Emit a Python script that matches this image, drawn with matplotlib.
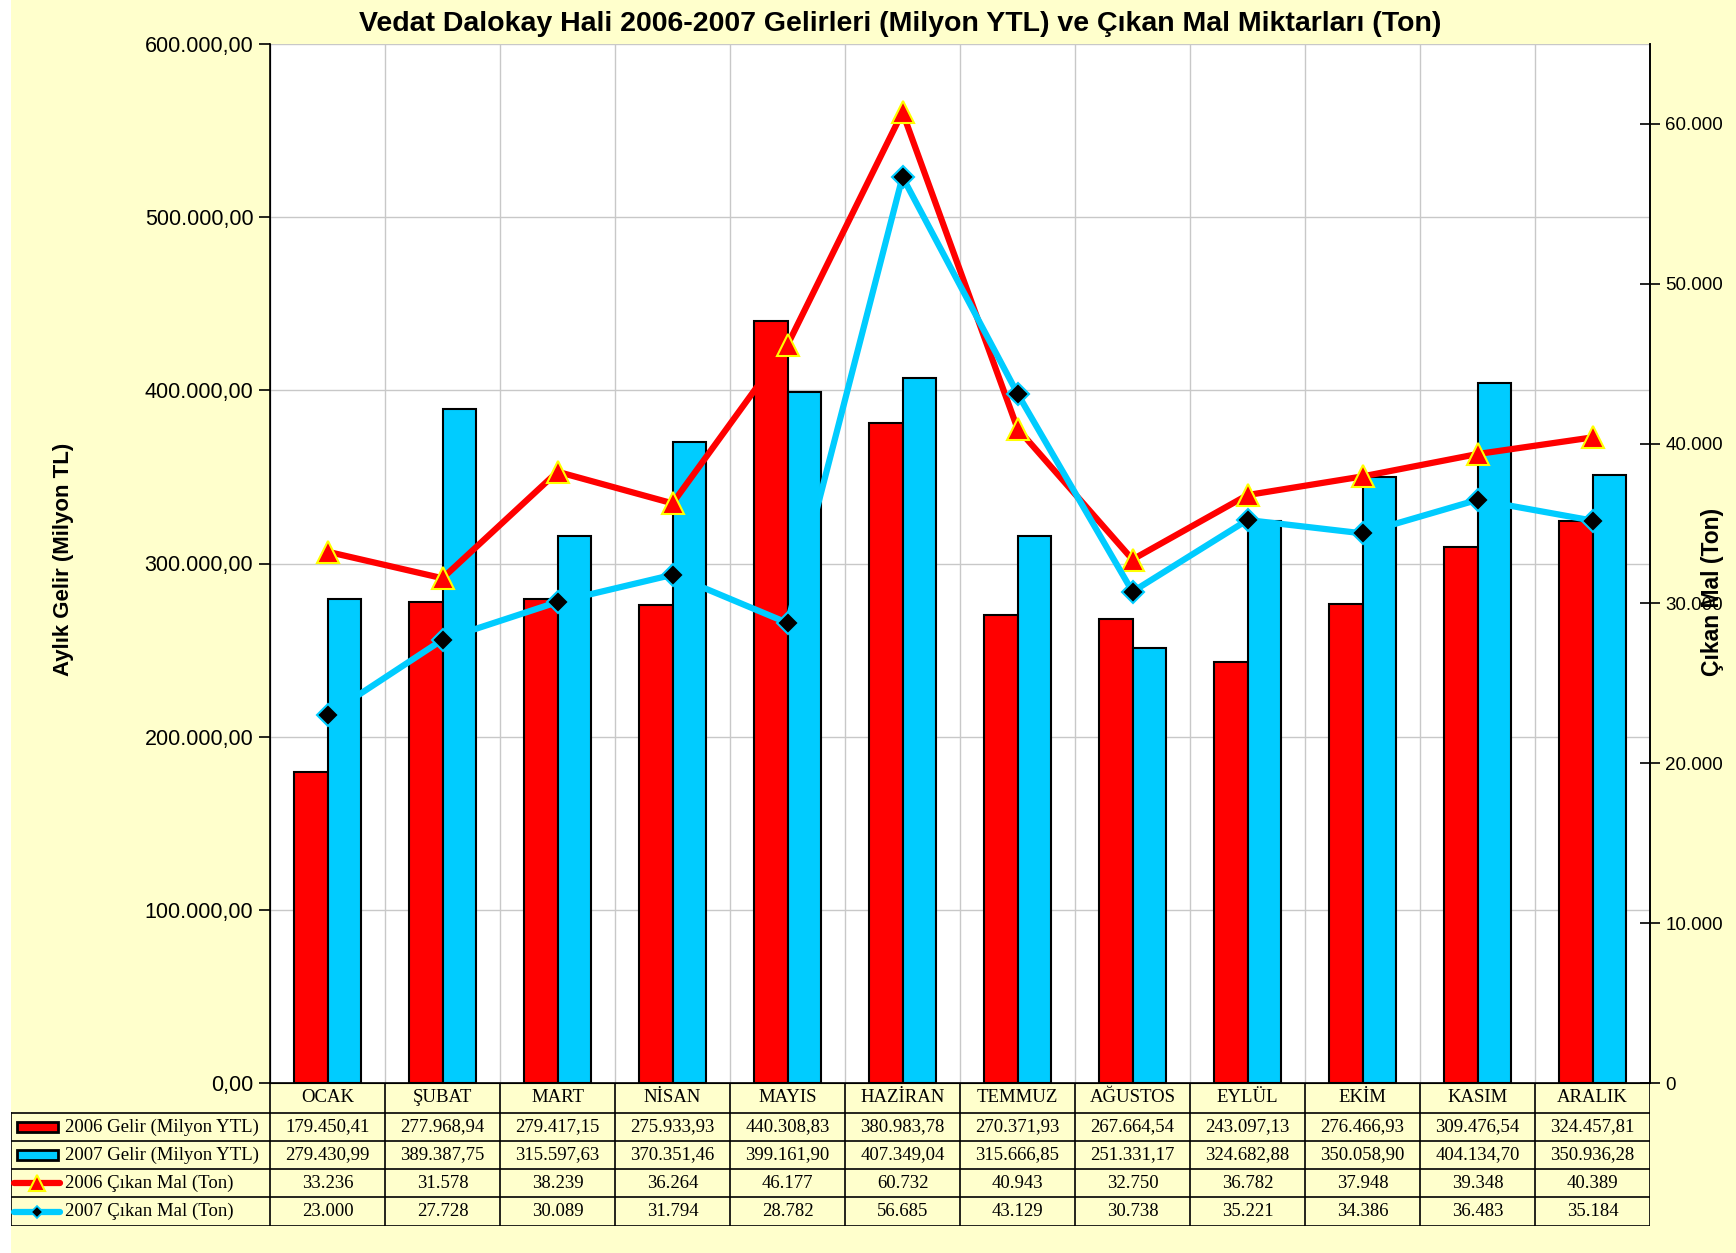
import matplotlib
matplotlib.use('Agg')
import matplotlib.pyplot as plt
from matplotlib.patches import Rectangle
from matplotlib.lines import Line2D
from matplotlib.ticker import FuncFormatter
import numpy as np

months = ['OCAK', 'ŞUBAT', 'MART', 'NİSAN', 'MAYIS', 'HAZİRAN', 'TEMMUZ',
          'AĞUSTOS', 'EYLÜL', 'EKİM', 'KASIM', 'ARALIK']
gelir_2006 = [179450.41, 277968.94, 279417.15, 275933.93, 440308.83, 380983.78,
              270371.93, 267664.54, 243097.13, 276466.93, 309476.54, 324457.81]
gelir_2007 = [279430.99, 389387.75, 315597.63, 370351.46, 399161.90, 407349.04,
              315666.85, 251331.17, 324682.88, 350058.90, 404134.70, 350936.28]
mal_2006 = [33236, 31578, 38239, 36264, 46177, 60732, 40943, 32750, 36782, 37948, 39348, 40389]
mal_2007 = [23000, 27728, 30089, 31794, 28782, 56685, 43129, 30738, 35221, 34386, 36483, 35184]

series_names = ['2006 Gelir (Milyon YTL)', '2007 Gelir (Milyon YTL)',
                '2006 Çıkan Mal (Ton)', '2007 Çıkan Mal (Ton)']

RED = '#FF0000'
CYAN = '#00CCFF'
BG = '#FFFFCC'
SANS = 'Liberation Sans'
SERIF = 'Liberation Serif'
plt.rcParams['font.family'] = [SANS, 'DejaVu Sans']


def tr_money(v):
    s = f'{v:,.2f}'
    return s.replace(',', 'X').replace('.', ',').replace('X', '.')


def tr_int(v):
    return f'{int(round(v)):,}'.replace(',', '.')


W, H = 1736, 1253
fig = plt.figure(figsize=(W / 100, H / 100), dpi=100, facecolor=BG)
# thin white strip on the far left
fig.patches.append(Rectangle((0, 0), 11 / W, 1, transform=fig.transFigure,
                             facecolor='white', edgecolor='none', zorder=-1))

# main plot area (pixel layout taken from reference)
px_l, px_r, px_t, px_b = 270, 1650, 44, 1083
ax = fig.add_axes([px_l / W, 1 - px_b / H, (px_r - px_l) / W, (px_b - px_t) / H])
ax.set_facecolor('white')
x = np.arange(len(months))
bw = 0.29
ax.bar(x - bw / 2, gelir_2006, bw, color=RED, edgecolor='black', linewidth=1.5, zorder=2)
ax.bar(x + bw / 2, gelir_2007, bw, color=CYAN, edgecolor='black', linewidth=1.5, zorder=2)
ax.set_xlim(-0.5, len(months) - 0.5)
ax.set_ylim(0, 600000)
ax.set_yticks(np.arange(0, 600001, 100000))
ax.yaxis.set_major_formatter(FuncFormatter(lambda v, p: tr_money(v)))
ax.set_xticks([])
ax.set_xticks(np.arange(-0.5, len(months), 1), minor=True)
ax.tick_params(axis='x', which='minor', length=0)
ax.grid(True, axis='y', color='#c8c8c8', linewidth=1)
ax.grid(True, axis='x', which='minor', color='#c8c8c8', linewidth=1)
ax.set_axisbelow(True)
ax.tick_params(axis='y', direction='out', length=8, width=1.2, labelsize=15.5, pad=4)
ax.spines['top'].set_visible(False)
for s in ['left', 'right', 'bottom']:
    ax.spines[s].set_linewidth(1.2)

ax2 = ax.twinx()
ax2.plot(x, mal_2006, color=RED, linewidth=4.5, marker='^', markersize=16,
         markerfacecolor=RED, markeredgecolor='#FFFF00', markeredgewidth=1.5, zorder=3)
ax2.plot(x, mal_2007, color=CYAN, linewidth=4.5, marker='D', markersize=11,
         markerfacecolor='black', markeredgecolor=CYAN, markeredgewidth=1.5, zorder=3)
ax2.set_ylim(0, 65000)
ax2.set_yticks(np.arange(0, 60001, 10000))
ax2.yaxis.set_major_formatter(FuncFormatter(lambda v, p: tr_int(v)))
ax2.tick_params(axis='y', direction='inout', length=14, width=1.2, labelsize=13.5, pad=4)
ax2.spines['top'].set_visible(False)
ax2.spines['right'].set_linewidth(1.2)

# titles and axis labels
fig.text(900 / W, 1 - 24 / H,
         'Vedat Dalokay Hali 2006-2007 Gelirleri (Milyon YTL) ve Çıkan Mal Miktarları (Ton)',
         ha='center', va='center', fontsize=20.5, fontweight='bold')
fig.text(64 / W, 1 - 559 / H, 'Aylık Gelir (Milyon TL)', rotation=90, ha='center',
         va='center', fontsize=16, fontweight='bold')
fig.text(1712 / W, 1 - 592 / H, 'Çıkan Mal (Ton)', rotation=90, ha='center',
         va='center', fontsize=16.5, fontweight='bold')

# data table under the chart
tb_l = 11
rows_y = [1083, 1113, 1141, 1169, 1197, 1226]
cat_px = (px_r - px_l) / len(months)
x_left = -0.5 - (px_l - tb_l) / cat_px
tax = fig.add_axes([tb_l / W, 1 - rows_y[-1] / H, (px_r - tb_l) / W,
                    (rows_y[-1] - rows_y[0]) / H])
tax.set_xlim(x_left, len(months) - 0.5)
tax.set_ylim(rows_y[-1], rows_y[0])
tax.axis('off')
lc = 'black'
lw = 1.2
# horizontal lines
for yy in rows_y[1:]:
    tax.plot([x_left, len(months) - 0.5], [yy, yy], color=lc, lw=lw)
# vertical lines
for xx in np.arange(-0.5, len(months), 1):
    tax.plot([xx, xx], [rows_y[0], rows_y[-1]], color=lc, lw=lw)
tax.plot([x_left, x_left], [rows_y[1], rows_y[-1]], color=lc, lw=lw)

fs_tab = 13.5
for i, m in enumerate(months):
    tax.text(i, (rows_y[0] + rows_y[1]) / 2, m, ha='center', va='center',
             fontsize=fs_tab, family=SERIF)

table_vals = [[tr_money(v) for v in gelir_2006], [tr_money(v) for v in gelir_2007],
              [tr_int(v) for v in mal_2006], [tr_int(v) for v in mal_2007]]
for r, vals in enumerate(table_vals):
    yc = (rows_y[r + 1] + rows_y[r + 2]) / 2
    for i, s in enumerate(vals):
        tax.text(i, yc, s, ha='center', va='center', fontsize=fs_tab, family=SERIF)
    tax.text(x_left + 0.47, yc, series_names[r], ha='left', va='center',
             fontsize=fs_tab, family=SERIF)

# legend keys in first column
k0, k1 = x_left + 0.03, x_left + 0.43
for r, col in enumerate([RED, CYAN]):
    yc = (rows_y[r + 2] + rows_y[r + 1]) / 2
    tax.add_patch(Rectangle((k0 + 0.02, yc - 5), k1 - k0 - 0.04, 10, facecolor=col,
                            edgecolor='black', linewidth=2, clip_on=False))
yc = (rows_y[3] + rows_y[4]) / 2
tax.add_line(Line2D([k0, k1], [yc, yc], color=RED, lw=4.5, solid_capstyle='round'))
tax.plot([(k0 + k1) / 2], [yc], marker='^', ms=11, mfc=RED, mec='#FFFF00', mew=1.5)
yc = (rows_y[4] + rows_y[5]) / 2
tax.add_line(Line2D([k0, k1], [yc, yc], color=CYAN, lw=4.5, solid_capstyle='round'))
tax.plot([(k0 + k1) / 2], [yc], marker='D', ms=6, mfc='black', mec=CYAN, mew=1.2)

fig.savefig('out.png', dpi=100, facecolor=BG)
